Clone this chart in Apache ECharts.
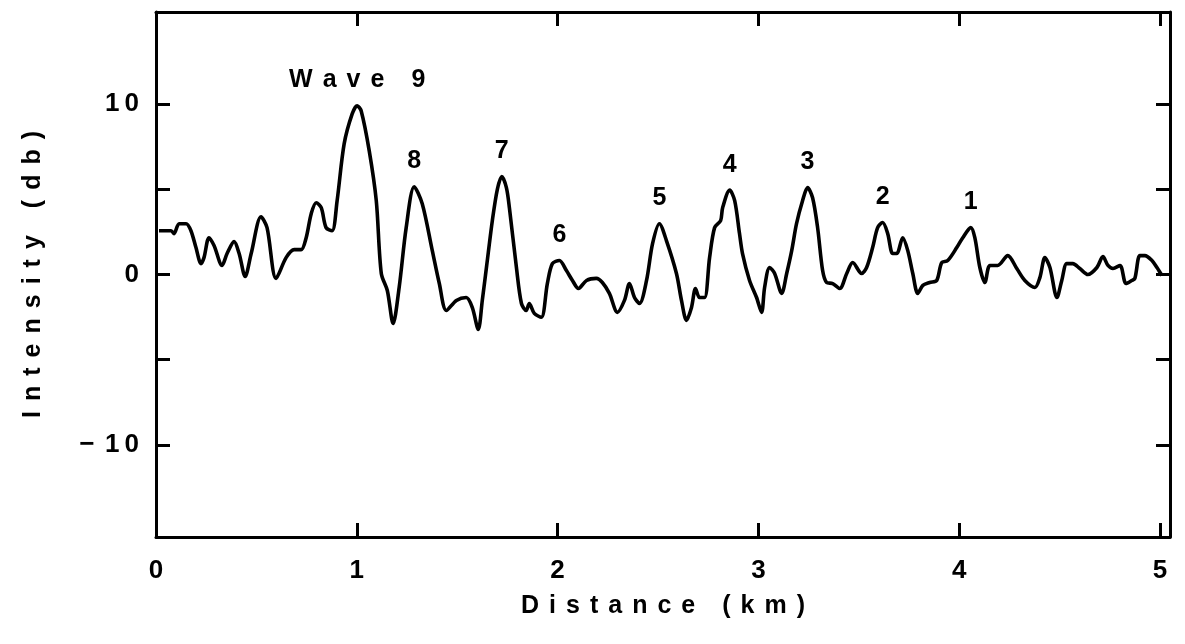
<!DOCTYPE html>
<html>
<head>
<meta charset="utf-8">
<script src="https://cdn.jsdelivr.net/npm/echarts@6/dist/echarts.min.js"></script>
<style>html,body{margin:0;padding:0;background:#fff;}#c{width:1185px;height:644px;}</style>
</head>
<body>
<div id="c"></div>
<script>
// Distance (km)
const distance = [0.015,0.075,0.090,0.115,0.150,0.174,0.199,0.224,0.239,0.264,0.289,0.329,0.354,0.389,0.414,0.444,0.474,0.523,0.553,0.598,
0.648,0.688,0.723,0.748,0.773,0.798,0.823,0.847,0.877,0.902,0.937,0.977,1.002,1.022,1.062,1.097,1.122,1.152,1.181,1.211,
1.246,1.286,1.326,1.376,1.411,1.446,1.496,1.545,1.575,1.605,1.625,1.650,1.675,1.700,1.722,1.745,1.760,1.795,1.820,1.844,1.859,
1.884,1.919,1.949,1.974,2.009,2.044,2.074,2.104,2.144,2.193,2.223,2.258,2.298,2.333,2.358,2.383,2.408,2.443,2.473,2.507,
2.542,2.592,2.617,2.642,2.667,2.687,2.707,2.732,2.757,2.782,2.812,2.822,2.857,2.882,2.906,2.921,2.956,2.991,3.016,3.031,
3.056,3.081,3.116,3.141,3.166,3.190,3.220,3.245,3.270,3.295,3.320,3.340,3.370,3.405,3.440,3.470,3.514,3.539,3.569,3.594,
3.619,3.644,3.669,3.689,3.719,3.744,3.769,3.794,3.819,3.853,3.888,3.913,3.943,3.988,4.018,4.058,4.078,4.103,4.128,4.153,
4.192,4.242,4.287,4.327,4.377,4.402,4.427,4.452,4.487,4.511,4.536,4.566,4.601,4.641,4.686,4.716,4.741,4.766,4.801,4.831,
4.860,4.875,4.900,4.925,4.960,4.985,5.010];
// Intensity (db)
const intensity = [2.57,2.57,2.40,2.98,2.98,2.57,1.58,0.64,0.99,2.16,1.70,0.53,1.23,1.93,1.23,-0.12,1.23,3.39,2.75,-0.23,
0.99,1.46,1.46,2.16,3.57,4.21,3.92,2.75,2.57,4.33,7.66,9.42,9.90,9.59,7.25,4.33,0.06,-0.94,-2.87,-0.76,
2.75,5.15,4.15,1.40,-0.53,-2.11,-1.52,-1.35,-1.93,-3.22,-1.52,0.82,3.16,5.00,5.75,5.10,3.92,0.41,-1.70,-2.11,-1.70,
-2.28,-2.51,-0.53,0.64,0.82,0.23,-0.35,-0.82,-0.35,-0.23,-0.47,-1.11,-2.22,-1.52,-0.53,-1.35,-1.70,-0.35,1.81,2.98,
1.99,0.06,-1.52,-2.69,-1.93,-0.82,-1.35,-1.35,0.99,2.75,3.16,3.92,4.95,4.33,2.40,1.23,-0.35,-1.35,-2.22,-0.76,
0.41,0.06,-1.11,0.06,1.40,2.98,4.33,5.10,4.50,2.75,0.23,-0.47,-0.53,-0.82,0.06,0.70,0.06,0.41,1.58,2.75,
3.05,2.40,1.23,1.23,2.16,1.40,0.06,-1.11,-0.64,-0.47,-0.35,0.70,0.82,1.58,2.16,2.75,2.16,0.41,-0.47,0.53,
0.53,1.11,0.35,-0.35,-0.76,-0.18,0.99,0.41,-1.35,-0.35,0.64,0.64,0.35,0.00,0.41,1.05,0.53,0.35,0.53,-0.53,
-0.35,-0.23,1.11,1.11,0.82,0.41,-0.06];
// Wave labels at peaks
const waveNames = ['Wave 9', '8', '7', '6', '5', '4', '3', '2', '1'];
const waveX = [1.002, 1.286, 1.722, 2.009, 2.507, 2.857, 3.245, 3.619, 4.058];
const waveY = [9.90, 5.15, 5.75, 0.82, 2.98, 4.95, 5.10, 3.05, 2.75];
// Axis ticks
const xTicks = [0, 1, 2, 3, 4, 5];
const yTicks = [-10, -5, 0, 5, 10];
const yLabelTicks = [-10, 0, 10];

// wide letter spacing like the original typesetting
const spaced = (s, gap) => s.split(' ').map(w => w.split('').join(gap)).join(gap + ' ' + gap);
const font = 'Liberation Sans, Arial, Helvetica, sans-serif';
const chart = echarts.init(document.getElementById('c'));
const tickStyle = {show: true, inside: true, length: 14, lineStyle: {color: '#000', width: 3}};
const lineStyle = {show: true, onZero: false, lineStyle: {color: '#000', width: 3}};
const TS = '\u2009\u2009';
chart.setOption({
  animation: false,
  backgroundColor: '#fff',
  grid: {left: 156, right: 15, top: 12, bottom: 107},
  xAxis: [{
    type: 'value', min: 0, max: 5.05, position: 'bottom',
    axisLine: lineStyle, splitLine: {show: false},
    axisTick: Object.assign({customValues: xTicks}, tickStyle),
    axisLabel: {customValues: xTicks, margin: 21, color: '#000', fontSize: 26, fontWeight: 'bold', fontFamily: font},
    name: spaced('Distance (km)', TS), nameLocation: 'middle', nameGap: 57,
    nameTextStyle: {color: '#000', fontSize: 25, fontWeight: 'bold', fontFamily: font}
  }, {
    type: 'value', min: 0, max: 5.05, position: 'top',
    axisLine: lineStyle, splitLine: {show: false},
    axisTick: Object.assign({customValues: xTicks}, tickStyle),
    axisLabel: {show: false}
  }],
  yAxis: [{
    type: 'value', min: -15.4, max: 15.4, position: 'left',
    axisLine: lineStyle, splitLine: {show: false},
    axisTick: Object.assign({customValues: yTicks}, tickStyle),
    axisLabel: {customValues: yLabelTicks, margin: 17, color: '#000', fontSize: 26, fontWeight: 'bold', fontFamily: font,
      formatter: v => (v < 0 ? '\u2212\u2009\u2009' : '') + String(Math.abs(v)).split('').join('\u2009')},
    name: spaced('Intensity (db)', TS), nameLocation: 'middle', nameGap: 110,
    nameTextStyle: {color: '#000', fontSize: 25, fontWeight: 'bold', fontFamily: font}
  }, {
    type: 'value', min: -15.4, max: 15.4, position: 'right',
    axisLine: lineStyle, splitLine: {show: false},
    axisTick: Object.assign({customValues: yTicks}, tickStyle),
    axisLabel: {show: false}
  }],
  series: [{
    type: 'line',
    data: distance.map((x, i) => [x, intensity[i]]),
    showSymbol: false, smooth: 0.3,
    lineStyle: {color: '#000', width: 3.6},
    z: 3
  }, {
    type: 'scatter',
    data: waveX.map((x, i) => ({value: [x, waveY[i]], name: waveNames[i]})),
    symbolSize: 0, itemStyle: {color: '#000', opacity: 1},
    label: {show: true, position: 'top', distance: 13, formatter: p => spaced(p.name, '\u2009\u2009'),
      color: '#000', fontSize: 25, fontWeight: 'bold', fontFamily: font}
  }]
});
</script>
</body>
</html>
